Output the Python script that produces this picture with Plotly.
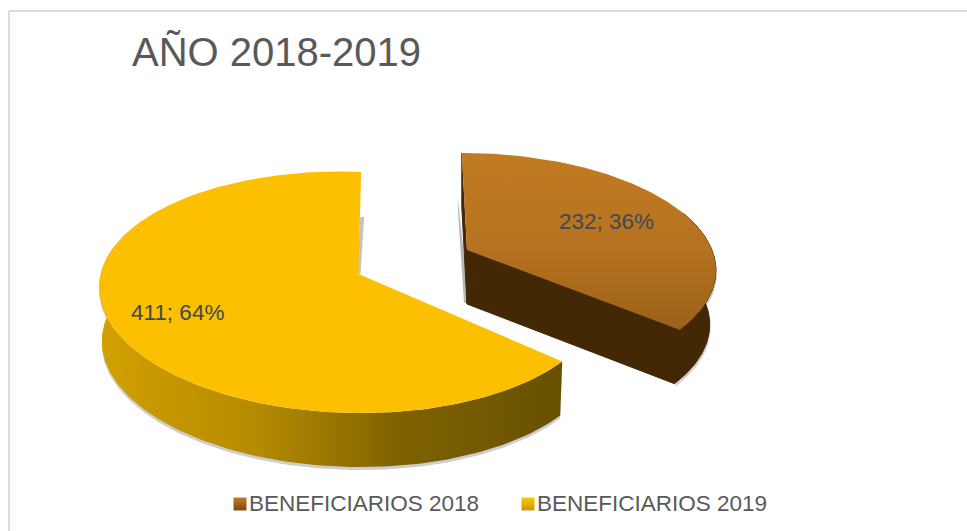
import numpy as np
import plotly.graph_objects as go

# ---- data ----
categories = ["BENEFICIARIOS 2018", "BENEFICIARIOS 2019"]
values = [232, 411]
title_text = "AÑO 2018-2019"

# ---- styling / geometry of the tilted pie (pixels of the 967x531 canvas) ----
W, H = 967, 531
FONT = "Liberation Sans"
DEPTH = 54
brown_view = dict(ax=467, ay=250, R=245, S=112, k=0.1535, m=0.0, sx=6, sy=0, low=0.975)
yellow_view = dict(ax=358.5, ay=274, R=248, S=117.7, k=0.1535, m=-0.03, sx=-3, sy=7, low=0.99)

total = sum(values)
split = 360.0 * values[0] / total  # clockwise degrees from 12 o'clock


def proj(theta_deg, v):
    """Project a point on the unit pie (clockwise degrees) to canvas pixels."""
    t = np.radians(np.asarray(theta_deg, dtype=float))
    a, b = np.sin(t), -np.cos(t)
    w = 1 - v["k"] * b - v["m"] * a
    x = v["ax"] + (v["R"] * a + v["sx"] * b) / w
    y = v["ay"] + (v["S"] * b + v["sy"] * a) / w
    return x, y


def low(x, v):
    """x of the lower rim, drawn slightly toward the centre (perspective)."""
    return v["ax"] + (np.asarray(x, dtype=float) - v["ax"]) * v["low"]


fig = go.Figure()


def poly(x, y, color=None, gradient=None, name=None, edge=0):
    kw = dict(x=list(x), y=list(y), mode="lines", fill="toself", hoverinfo="skip",
              showlegend=False, line=dict(width=edge, color=color), name=name)
    if gradient:
        kw["fillgradient"] = gradient
    else:
        kw["fillcolor"] = color
    fig.add_trace(go.Scatter(**kw))


def side(theta, v, shift=0, dx=0):
    x, y = proj(theta, v)
    return (np.r_[x + dx, (low(x, v) + dx)[::-1]],
            np.r_[y + shift, (y + DEPTH + shift)[::-1]])


# ---- yellow slice ----
yt = np.linspace(split, 360, 240)
ys = np.linspace(split, 280, 160)
sx_, sy_ = side(ys, yellow_view, shift=3)
poly(sx_, sy_, color="rgba(90,90,90,0.30)")
sx_, sy_ = side(ys, yellow_view)
poly(sx_, sy_, gradient=dict(type="horizontal", colorscale=[
    [0, "#D2A000"], [0.35, "#B38A00"], [0.65, "#7F6200"], [1, "#675000"]]))
tx, ty = proj(yt, yellow_view)
# shadow along the straight cut at 12 o'clock
poly([tx[-1] + 3, tx[-1] - 1, yellow_view["ax"] - 1, yellow_view["ax"] + 2],
     [ty[-1] + 45, ty[-1] + 45, yellow_view["ay"], yellow_view["ay"]],
     color="rgba(120,120,130,0.45)")
poly(np.r_[yellow_view["ax"], tx], np.r_[yellow_view["ay"], ty], color="#FCC000",
     name=categories[1])

# ---- brown slice ----
bt = np.linspace(0, split, 200)
bx, by = proj(bt, brown_view)
ax_, ay_ = brown_view["ax"], brown_view["ay"]
# soft shadow
vis = np.linspace(70, split, 80)
sx_, sy_ = side(vis, brown_view, shift=3, dx=1)
poly(sx_, sy_, color="rgba(90,90,90,0.28)")
poly([bx[0] - 4, bx[0] - 4, ax_ - 3, ax_ + 2], [by[0] + 45, by[0] + 55, ay_ + 53, ay_ + 53],
     color="rgba(110,110,125,0.5)")
# vertical faces
sx_, sy_ = side(vis, brown_view)
poly(sx_, sy_, color="#432806", edge=1)
poly([ax_, bx[-1], low(bx[-1], brown_view), ax_], [ay_, by[-1], by[-1] + DEPTH, ay_ + DEPTH],
     color="#432806", edge=1)
poly([bx[0], bx[0], ax_, ax_], [by[0], by[0] + DEPTH, ay_ + DEPTH, ay_], color="#432806", edge=1)
# top surface (the y axis is reversed, so the light end of the scale comes last)
poly(np.r_[ax_, bx], np.r_[ay_, by],
     gradient=dict(type="vertical", colorscale=[[0, "#9B6117"], [0.45, "#B57220"], [1, "#C27B22"]]),
     name=categories[0])

# ---- legend swatches ----
swatch_x = [240, 528]
swatch_dark = ["#7A4A12", "#C99A00"]
swatch_light = ["#C27B22", "#FFC800"]
for cat, sxp, dark, light in zip(categories, swatch_x, swatch_dark, swatch_light):
    fig.add_trace(go.Scatter(x=[sxp], y=[504], mode="markers", showlegend=False, hoverinfo="skip", name=cat,
                             marker=dict(symbol="square", size=13, color=light, line=dict(width=0),
                                         gradient=dict(type="vertical", color=dark))))

# ---- text ----
annotations = [
    dict(x=132, y=52, text=title_text, xanchor="left", yanchor="middle",
         font=dict(family=FONT, size=40, color="#595959")),
]
label_pos = [(606, 221), (177, 312)]
for val, (lx, ly) in zip(values, label_pos):
    annotations.append(dict(x=lx, y=ly, text=f"{val}; {round(100 * val / total)}%", xanchor="center",
                            yanchor="middle", font=dict(family=FONT, size=22.5, color="#404854")))
legend_text_x = [249, 537]
for cat, lx in zip(categories, legend_text_x):
    annotations.append(dict(x=lx, y=503, text=cat, xanchor="left", yanchor="middle",
                            font=dict(family=FONT, size=22.5, color="#595959")))
for a in annotations:
    a.update(showarrow=False, xref="x", yref="y", borderpad=0, borderwidth=0)

# ---- frame: top and left edges only reach the canvas edge ----
frame = [
    dict(type="line", x0=9, x1=W, y0=11, y1=11, line=dict(color="#DCDCDC", width=2), xref="x", yref="y"),
    dict(type="line", x0=9, x1=9, y0=11, y1=H, line=dict(color="#DCDCDC", width=2), xref="x", yref="y"),
]

fig.update_layout(
    width=W, height=H, autosize=False, margin=dict(l=0, r=0, t=0, b=0),
    paper_bgcolor="white", plot_bgcolor="white", showlegend=False,
    xaxis=dict(range=[0, W], visible=False, fixedrange=True),
    yaxis=dict(range=[H, 0], visible=False, fixedrange=True),
    annotations=annotations, shapes=frame,
)
fig.write_html("out.html", config={"displayModeBar": False},
               post_script="document.body.style.margin='0';document.body.style.overflow='hidden';")
